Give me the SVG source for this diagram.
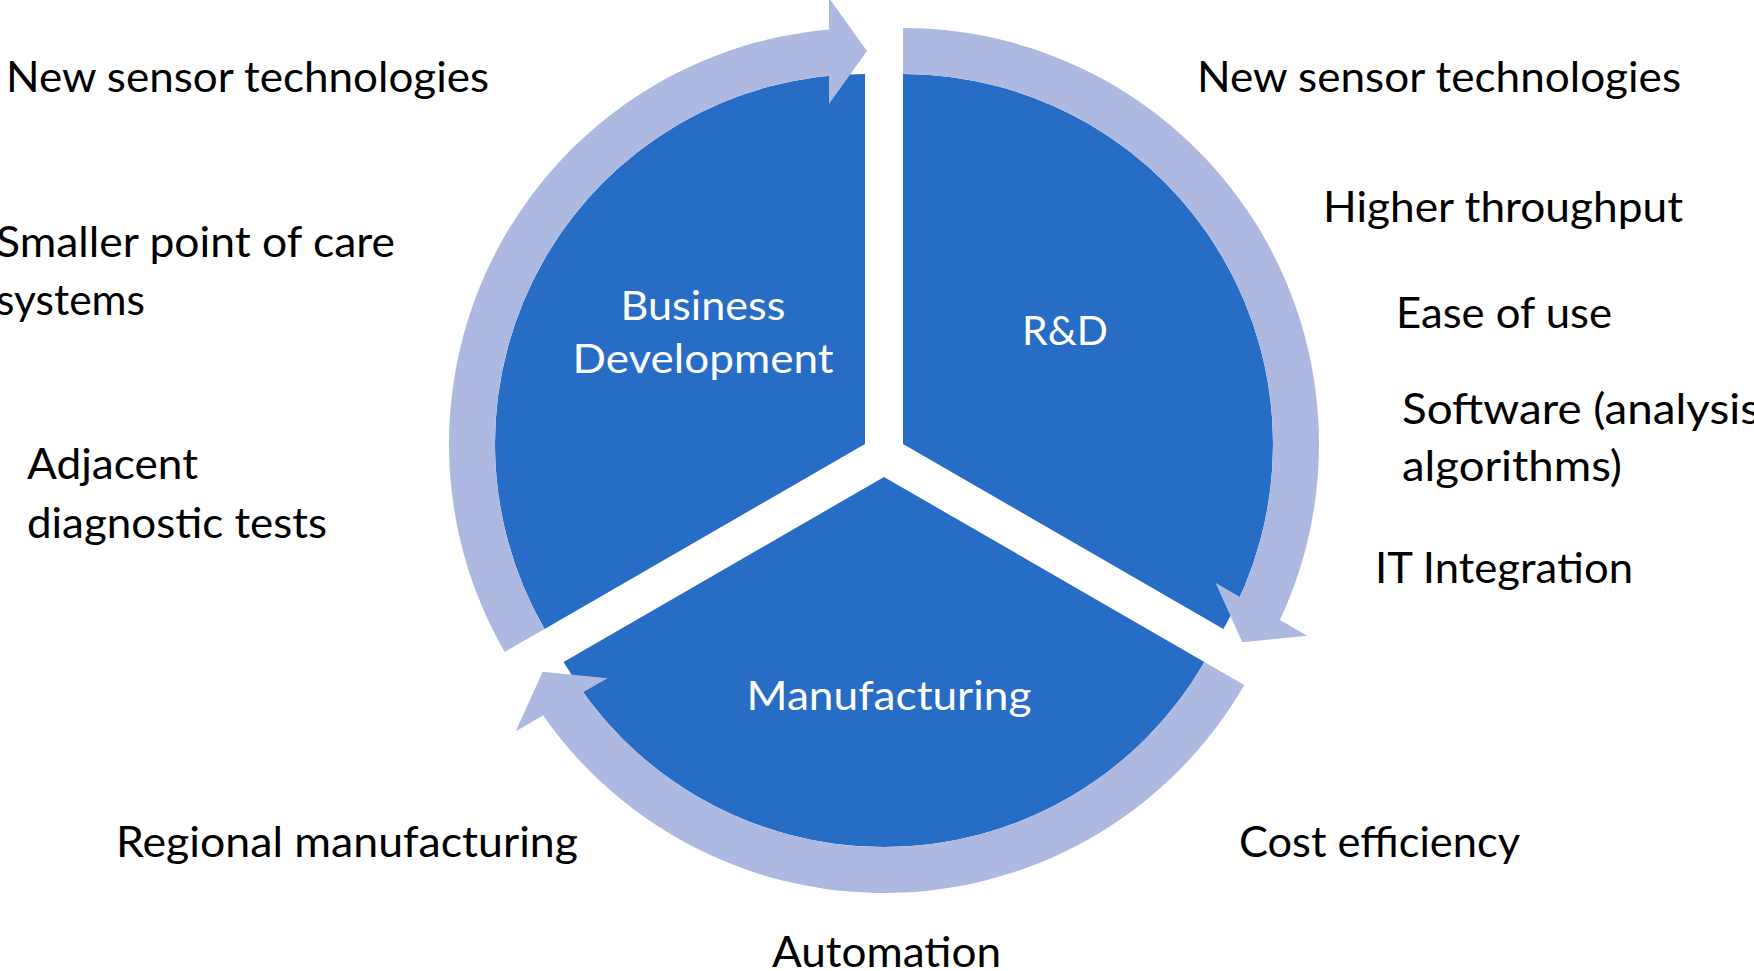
<svg xmlns="http://www.w3.org/2000/svg" width="1754" height="971" viewBox="0 0 1754 971">
  <style>
    .pie { fill: #276CC5; }
    .arc { fill: #ADB9E0; }
    .lbl { font-family: Lato, "Open Sans", "Liberation Sans", sans-serif; font-size: 43px; fill: #000000; }
    .in  { font-family: Lato, "Open Sans", "Liberation Sans", sans-serif; font-size: 41px; fill: #FFFFFF; text-anchor: middle; }
  </style>
  <rect width="1754" height="971" fill="#FFFFFF"/>

  <!-- pie segments, each with its own apex so the gaps keep a constant width -->
  <g id="business-development">
    <path class="pie" d="M 865 444 L 544.57 629 A 370 370 0 0 1 865 74 Z"/>
    <text class="in" x="703" y="320" textLength="165" lengthAdjust="spacingAndGlyphs">Business</text>
    <text class="in" x="703" y="373" textLength="261" lengthAdjust="spacingAndGlyphs">Development</text>
  </g>
  <g id="rnd">
    <path class="pie" d="M 903 444 L 903 74 A 370 370 0 0 1 1223.43 629 Z"/>
    <text class="in" x="1065" y="345" textLength="86" lengthAdjust="spacingAndGlyphs">R&amp;D</text>
  </g>
  <g id="manufacturing">
    <path class="pie" d="M 884 477 L 1204.43 662 A 370 370 0 0 1 563.57 662 Z"/>
    <text class="in" x="889" y="710" textLength="285" lengthAdjust="spacingAndGlyphs">Manufacturing</text>
  </g>

  <!-- circular arrows running clockwise round the segments -->
  <g id="connectors">
    <path class="arc" d="M 504.73 652 A 416 416 0 0 1 829 29.56 L 829 -2 L 867 51 L 829 104 L 829 75.75 A 370 370 0 0 0 544.57 629 Z"/>
    <path class="arc" d="M 903 28 A 416 416 0 0 1 1279.92 620.04 L 1307.25 635.82 L 1242.35 642.23 L 1215.45 582.82 L 1239.91 596.95 A 370 370 0 0 0 903 74 Z"/>
    <path class="arc" d="M 1244.27 685 A 416 416 0 0 1 543.08 715.4 L 515.75 731.18 L 542.65 671.77 L 607.55 678.18 L 583.09 692.31 A 370 370 0 0 0 1204.43 662 Z"/>
  </g>

  <!-- surrounding notes -->
  <g id="notes-left">
    <text class="lbl" x="6" y="92" textLength="483" lengthAdjust="spacingAndGlyphs">New sensor technologies</text>
    <text class="lbl" x="-4" y="257" textLength="399" lengthAdjust="spacingAndGlyphs">Smaller point of care</text>
    <text class="lbl" x="-4" y="315" textLength="149" lengthAdjust="spacingAndGlyphs">systems</text>
    <text class="lbl" x="27" y="479" textLength="171" lengthAdjust="spacingAndGlyphs">Adjacent</text>
    <text class="lbl" x="27" y="538" textLength="300" lengthAdjust="spacingAndGlyphs">diagnostic tests</text>
    <text class="lbl" x="116" y="857" textLength="462" lengthAdjust="spacingAndGlyphs">Regional manufacturing</text>
  </g>
  <g id="notes-right">
    <text class="lbl" x="1197" y="92" textLength="484" lengthAdjust="spacingAndGlyphs">New sensor technologies</text>
    <text class="lbl" x="1323" y="222" textLength="360" lengthAdjust="spacingAndGlyphs">Higher throughput</text>
    <text class="lbl" x="1396" y="328" textLength="216" lengthAdjust="spacingAndGlyphs">Ease of use</text>
    <text class="lbl" x="1402" y="424" textLength="358" lengthAdjust="spacingAndGlyphs">Software (analysis</text>
    <text class="lbl" x="1402" y="481" textLength="220" lengthAdjust="spacingAndGlyphs">algorithms)</text>
    <text class="lbl" x="1375" y="583" textLength="258" lengthAdjust="spacingAndGlyphs">IT Integration</text>
    <text class="lbl" x="1239" y="857" textLength="281" lengthAdjust="spacingAndGlyphs">Cost efficiency</text>
  </g>
  <g id="notes-bottom">
    <text class="lbl" x="772" y="967" textLength="229" lengthAdjust="spacingAndGlyphs">Automation</text>
  </g>
</svg>
